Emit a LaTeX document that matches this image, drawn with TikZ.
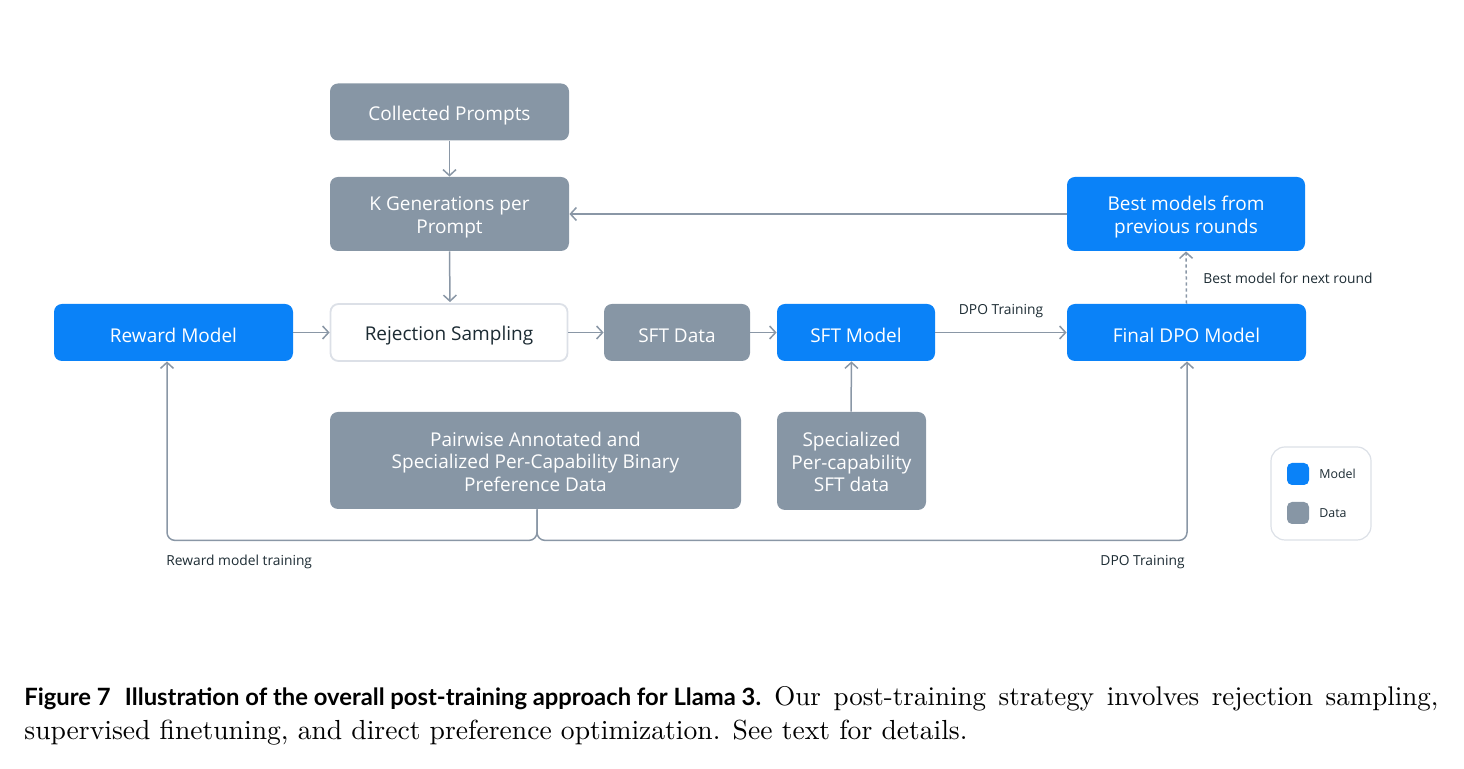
\documentclass[tikz,border=0pt]{standalone}
\usepackage{fontspec}
\setmainfont{Latin Modern Roman}
\setsansfont{Open Sans}
\newfontfamily\capsans{Lato}
\newfontfamily\capserif{lmroman10-regular}[Extension=.otf]
\usetikzlibrary{arrows.meta,calc}
\definecolor{mblue}{HTML}{0A82F8}
\definecolor{dgray}{HTML}{8796A5}
\definecolor{agray}{HTML}{8A97A6}
\definecolor{bgray}{HTML}{DCE0E7}
\definecolor{tdark}{HTML}{1C2B33}
\newcommand{\diagfont}{\sffamily\fontsize{9.5}{11.25}\selectfont}
\newcommand{\labfont}{\sffamily\fontsize{6.9}{8.5}\selectfont}
\newcommand{\tallstrut}{\rule{0pt}{10.3pt}}
\tikzset{
  boxbase/.style={rounded corners=4pt, inner sep=0pt, align=center, font=\diagfont, minimum height=28.5pt, execute at begin node={\tallstrut}},
  modelbox/.style={boxbase, fill=mblue, text=white},
  databox/.style={boxbase, fill=dgray, text=white},
  plainbox/.style={boxbase, fill=white, draw=bgray, line width=0.9pt, text=tdark},
  conn/.style={draw=agray, line width=0.75pt, -{Straight Barb[length=3pt,width=6.5pt,line width=0.75pt]}},
  lab/.style={font=\labfont, text=tdark, inner sep=0pt},
  legtext/.style={lab, font=\sffamily\fontsize{6.2}{8}\selectfont, anchor=west},
}
\begin{document}
\begin{tikzpicture}[x=0.5pt,y=-0.5pt]
\useasboundingbox (0,0) rectangle (1464,769);
% nodes
\node[databox, minimum width=119.5pt] (cp) at (449.5,112) {Collected Prompts};
\node[databox, minimum width=119.5pt, minimum height=37pt] (kg) at (449.5,214) {\tallstrut K Generations per\\Prompt};
\node[modelbox, minimum width=119pt, minimum height=37pt] (bm) at (1186,214) {\tallstrut Best models from\\previous rounds};
\node[modelbox, minimum width=119.5pt] (rm) at (173.5,332.5) {Reward Model};
\node[plainbox, minimum width=118.5pt] (rs) at (449,332.5) {Rejection Sampling};
\node[databox, minimum width=73pt] (sd) at (677,332.5) {SFT Data};
\node[modelbox, minimum width=79pt] (sm) at (856,332.5) {SFT Model};
\node[modelbox, minimum width=119.5pt] (fd) at (1186.5,332.5) {Final DPO Model};
\node[databox, minimum width=205.5pt, minimum height=48.5pt] (pw) at (535.5,460.5) {\rule{0pt}{8.5pt}Pairwise Annotated and\\Specialized Per-Capability Binary\\Preference Data};
\node[databox, minimum width=74.5pt, minimum height=49pt] (sp) at (851.5,461) {\rule{0pt}{8.5pt}Specialized\\Per-capability\\SFT data};
% legend
\node[draw=bgray, line width=0.6pt, rounded corners=7pt, minimum width=50pt, minimum height=46.5pt, inner sep=0pt] (lg) at (1321,493.5) {};
\node[fill=mblue, rounded corners=2.5pt, minimum size=11pt, inner sep=0pt] (lm) at (1298,474) {};
\node[fill=dgray, rounded corners=2.5pt, minimum size=11pt, inner sep=0pt] (ld) at (1298,513) {};
\node[legtext] (lmt) at (1319,474) {Model};
\node[legtext] (ldt) at (1319,513) {Data};
% connectors
\draw[conn] (cp) -- (kg);
\draw[conn] (kg.south) -- ($(rs.north)+(1,-1)$);
\draw[conn] (bm.west) -- (kg.east);
\draw[conn] (rm) -- (rs);
\draw[conn] (rs) -- (sd);
\draw[conn] (sd) -- (sm);
\draw[conn] (sm) -- node[lab, above=7pt] (dpo1) {DPO Training} (fd);
\draw[conn] ($(sp.north)+(-0.5,0)$) -- ($(sm.south)+(-4.5,0)$);
\draw[conn, dash pattern=on 1.6pt off 1.4pt] (fd.north) -- (bm.south);
\node[lab, anchor=west] (bnr) at (1203,278) {Best model for next round};
\draw[conn, rounded corners=4pt] ($(pw.south)+(1.5,0)$) -- ++(0,31) -| ($(rm.south)+(-6.5,0)$);
\draw[conn, rounded corners=4pt] ($(pw.south)+(1.5,0)$) -- ++(0,31) -| ($(fd.south)+(0.5,0)$);
\node[lab, anchor=west] (rmt) at (166,562) {Reward model training};
\node[lab, anchor=east] (dpo2) at (1185,562) {DPO Training};
% caption
\node[anchor=base west, inner sep=0pt] (cap1) at (24,706) {\makebox[707pt][s]{\capserif\fontsize{13.5}{17}\selectfont\mbox{\capsans\bfseries\fontsize{11.9}{17}\selectfont Figure 7\hspace{0.6em}Illustration of the overall post-training approach for Llama 3.}\hspace{0.5em}Our post-training strategy involves rejection sampling,}};
\node[anchor=base west, inner sep=0pt] (cap2) at (24,740) {\capserif\fontsize{13.8}{17}\selectfont supervised finetuning, and direct preference optimization. See text for details.};
\end{tikzpicture}
\end{document}
